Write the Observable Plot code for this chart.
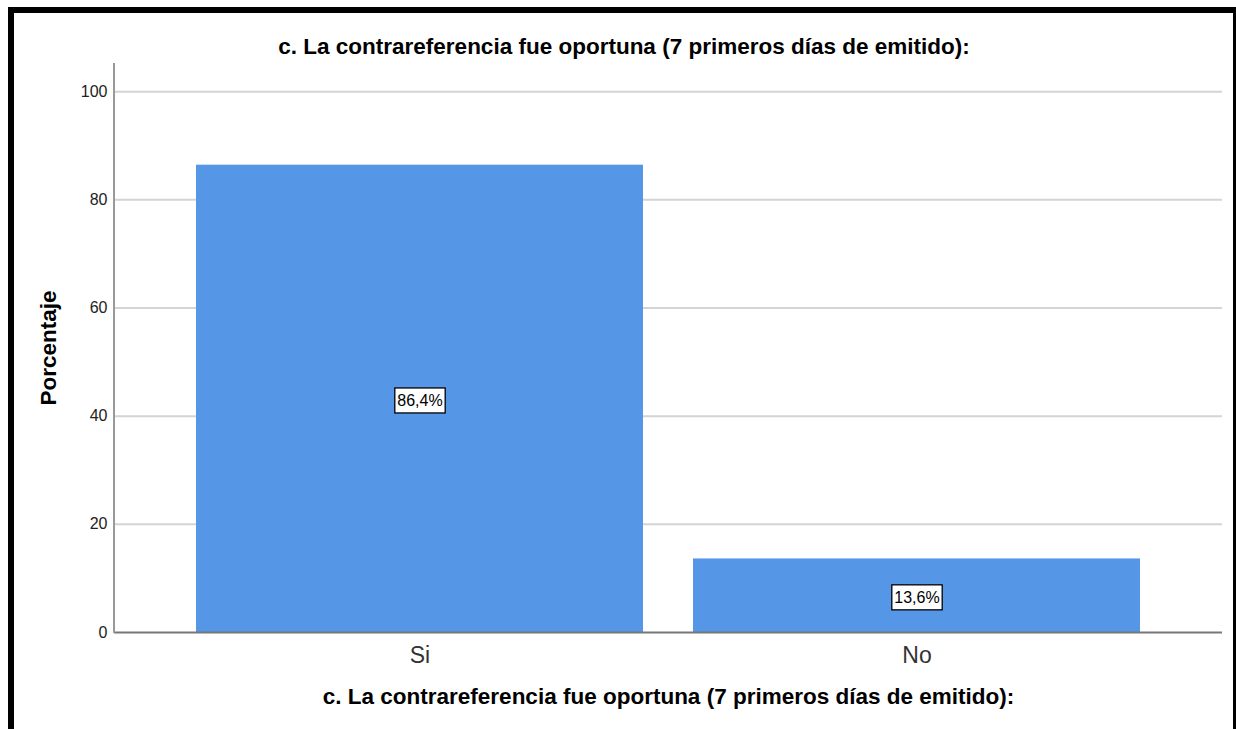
<!DOCTYPE html>
<html>
<head>
<meta charset="utf-8">
<script src="https://cdn.jsdelivr.net/npm/d3@7"></script>
<script src="https://cdn.jsdelivr.net/npm/@observablehq/plot@0.6"></script>
<style>
  html, body { margin: 0; padding: 0; background: #fff; }
  #wrap { position: relative; width: 1236px; height: 729px; overflow: hidden; font-family: "Liberation Sans", Arial, sans-serif; }
  .bd { position: absolute; background: #000; }
  #title { position: absolute; left: 6px; width: 1236px; top: 34px; line-height: 26px; text-align: center; font-weight: bold; font-size: 22.5px; color: #000; }
  #chart { position: absolute; left: 0; top: 0; }
</style>
</head>
<body>
<div id="wrap">
  <div id="chart"></div>
  <div id="title">c. La contrareferencia fue oportuna (7 primeros días de emitido):</div>
  <div class="bd" style="left:8px;top:7px;width:1228px;height:6px"></div>
  <div class="bd" style="left:8px;top:7px;width:6px;height:722px"></div>
  <div class="bd" style="left:1233px;top:7px;width:3px;height:722px"></div>
</div>
<script>
const categories = ["Si", "No"];
const percentages = [86.4, 13.6];
const yTicks = [0, 20, 40, 60, 80, 100];
const xTitle = "c. La contrareferencia fue oportuna (7 primeros días de emitido):";
const yTitle = "Porcentaje";

const fmt = v => v.toFixed(1).replace(".", ",") + "%";
const data = categories.map((c, i) => ({cat: c, pct: percentages[i], label: fmt(percentages[i])}));
const labelSet = new Set(data.map(d => d.label));

const plot = Plot.plot({
  width: 1236,
  height: 729,
  marginLeft: 114,
  marginRight: 14,
  marginTop: 63,
  marginBottom: 97,
  style: {fontFamily: "'Liberation Sans', Arial, sans-serif", background: "transparent", overflow: "visible"},
  x: {domain: categories, paddingInner: 0.1, paddingOuter: 0.1625, label: null},
  y: {domain: [0, 105.2], label: null},
  marks: [
    Plot.ruleY(yTicks.filter(d => d > 0), {stroke: "#d4d4d4", strokeWidth: 2}),
    Plot.barY(data, {x: "cat", y: "pct", fill: "#5596e6"}),
    Plot.axisY({ticks: yTicks, tickSize: 0, tickPadding: 7, fontSize: 16, color: "#222", label: null}),
    Plot.axisX({tickSize: 0, tickPadding: 14, fontSize: 23, color: "#333", label: null}),
    Plot.ruleY([0], {stroke: "#777", strokeWidth: 2}),
    Plot.text(data, {x: "cat", y: d => d.pct / 2, text: "label", fontSize: 16, fill: "#000", dy: 2}),
    Plot.text([xTitle], {frameAnchor: "bottom", dy: 71, fontSize: 22.5, fontWeight: "bold", fill: "#000"}),
    Plot.text([yTitle], {frameAnchor: "left", dx: -66, rotate: -90, textAnchor: "middle", fontSize: 22.5, fontWeight: "bold", fill: "#000"})
  ]
});

document.getElementById("chart").appendChild(plot);

const svg = d3.select(plot);
// y axis line extends to top of plot area
svg.append("line")
  .attr("x1", 114).attr("x2", 114).attr("y1", 63).attr("y2", 633)
  .attr("stroke", "#999").attr("stroke-width", 2);

// boxed labels
svg.selectAll("text").filter(function() { return labelSet.has(this.textContent); }).each(function() {
  const bb = this.getBBox();
  const r = d3.select(this.parentNode).insert("rect", () => this)
    .attr("x", bb.x - 2.5).attr("y", bb.y - 4)
    .attr("width", bb.width + 5).attr("height", bb.height + 8)
    .attr("fill", "#fff").attr("stroke", "#000").attr("stroke-width", 1.3);
  const t = this.getAttribute("transform");
  if (t) r.attr("transform", t);
});
</script>
</body>
</html>
